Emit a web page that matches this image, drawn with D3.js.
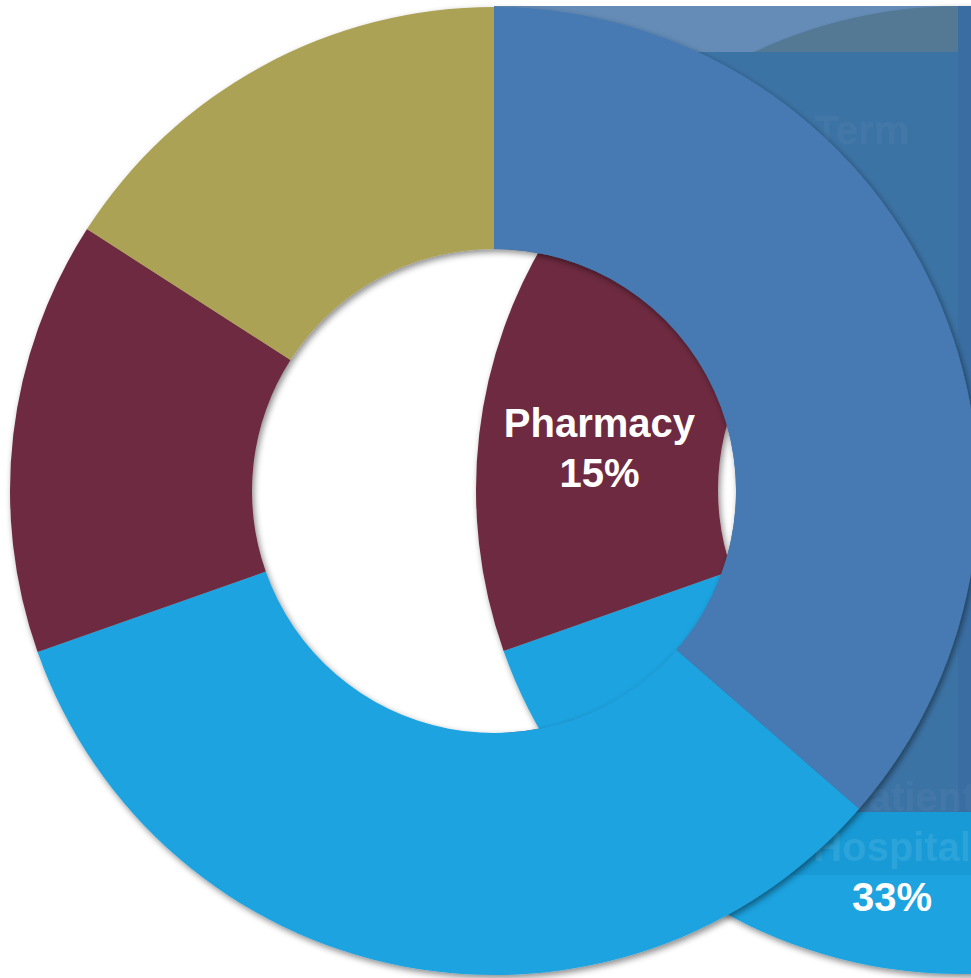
<!DOCTYPE html>
<html>
<head>
<meta charset="utf-8">
<script src="https://cdn.jsdelivr.net/npm/d3@7/dist/d3.min.js"></script>
<style>
  body { margin: 0; background: #fff; overflow: hidden; }
  text { font-family: "Liberation Sans", Arial, sans-serif; font-weight: bold; }
</style>
</head>
<body>
<div id="chart"></div>
<script>
// shares (first slice starts at 12 o'clock, clockwise)
var categories = ['(unlabelled)', 'Inpatient Hospital', 'Pharmacy', 'Long-Term Care'];
var values = [36.4, 33.2, 14.5, 15.9];
var labelLines = [[], ['Inpatient', 'Hospital', '33%'], ['Pharmacy', '15%'], ['Long-Term']];

var width = 971;
var height = 978;
var innerR = 242;
var outerR = 484;
var labelR = 363;
var lineH = 50;

var color = d3.scaleOrdinal()
    .domain(categories)
    .range(['#467ab2', '#1fa3e0', '#6e2c3f', '#aca256']);

// frame is caught mid-animation: label lines are at different stages of fading in
var lineOpacity = [[], [0.05, 0.1, 1], [1, 1], [0.05]];
var labelNudge = [[0, 0], [0, 0], [0, 0], [20, -41]];

var svg = d3.select('#chart')
    .append('svg')
    .attr('width', width)
    .attr('height', height);

var defs = svg.append('defs');
var shadow = defs.append('filter')
    .attr('id', 'shadow')
    .attr('x', '-10%').attr('y', '-10%')
    .attr('width', '120%').attr('height', '120%');
shadow.append('feDropShadow')
    .attr('dx', 2).attr('dy', 3)
    .attr('stdDeviation', 3)
    .attr('flood-color', '#000')
    .attr('flood-opacity', 0.45);

var pie = d3.pie()
    .sort(null)
    .value(function(d) { return d; });
var slices = pie(values);

var arc = d3.arc()
    .innerRadius(innerR)
    .outerRadius(outerR);
var labelArc = d3.arc()
    .innerRadius(labelR)
    .outerRadius(labelR);

var backX = 960, backY = 490;    // second copy, sliding in from the right
var frontX = 494, frontY = 491;

// back ring
var back = svg.append('g')
    .attr('transform', 'translate(' + backX + ',' + backY + ')')
    .attr('filter', 'url(#shadow)');
back.selectAll('path')
    .data(slices)
    .enter()
    .append('path')
    .attr('d', arc)
    .attr('fill', function(d, i) { return color(categories[i]); });

// panels covering the back ring on the right
svg.append('rect')
    .attr('x', frontX).attr('y', 6)
    .attr('width', 958 - frontX).attr('height', 46)
    .attr('fill', '#3d6fa5')
    .attr('fill-opacity', 0.8);

var p = d3.path();
p.moveTo(frontX, 52);
p.lineTo(width, 52);
p.lineTo(width, 812);
p.lineTo(frontX, 812);
p.lineTo(frontX, frontY + innerR);
p.arc(frontX, frontY, innerR, Math.PI / 2, -Math.PI / 2, true);
p.closePath();
svg.append('path')
    .attr('d', p.toString())
    .attr('fill', '#3c73a5');

svg.append('rect')
    .attr('x', 958).attr('y', 6)
    .attr('width', width - 958).attr('height', 806)
    .attr('fill', '#3a6ea3');

svg.append('rect')
    .attr('x', frontX).attr('y', 812)
    .attr('width', width - frontX).attr('height', 63)
    .attr('fill', '#0676ae')
    .attr('fill-opacity', 0.2);

// labels of the back ring
var labels = svg.append('g')
    .attr('transform', 'translate(' + backX + ',' + backY + ')');
slices.forEach(function(d, i) {
    var lines = labelLines[i];
    if (!lines.length) return;
    var c = labelArc.centroid(d);
    var x = c[0] + labelNudge[i][0];
    var y0 = c[1] + labelNudge[i][1] - (lines.length - 1) * lineH / 2 + 14;
    labels.selectAll(null)
        .data(lines)
        .enter()
        .append('text')
        .attr('x', x)
        .attr('y', function(t, j) { return y0 + j * lineH; })
        .attr('text-anchor', 'middle')
        .attr('font-size', 40)
        .attr('fill', '#fff')
        .attr('fill-opacity', function(t, j) { return lineOpacity[i][j]; })
        .text(function(t) { return t; });
});

// front ring
var front = svg.append('g')
    .attr('transform', 'translate(' + frontX + ',' + frontY + ')')
    .attr('filter', 'url(#shadow)');
front.selectAll('path')
    .data(slices)
    .enter()
    .append('path')
    .attr('d', arc)
    .attr('fill', function(d, i) { return color(categories[i]); });
</script>
</body>
</html>
